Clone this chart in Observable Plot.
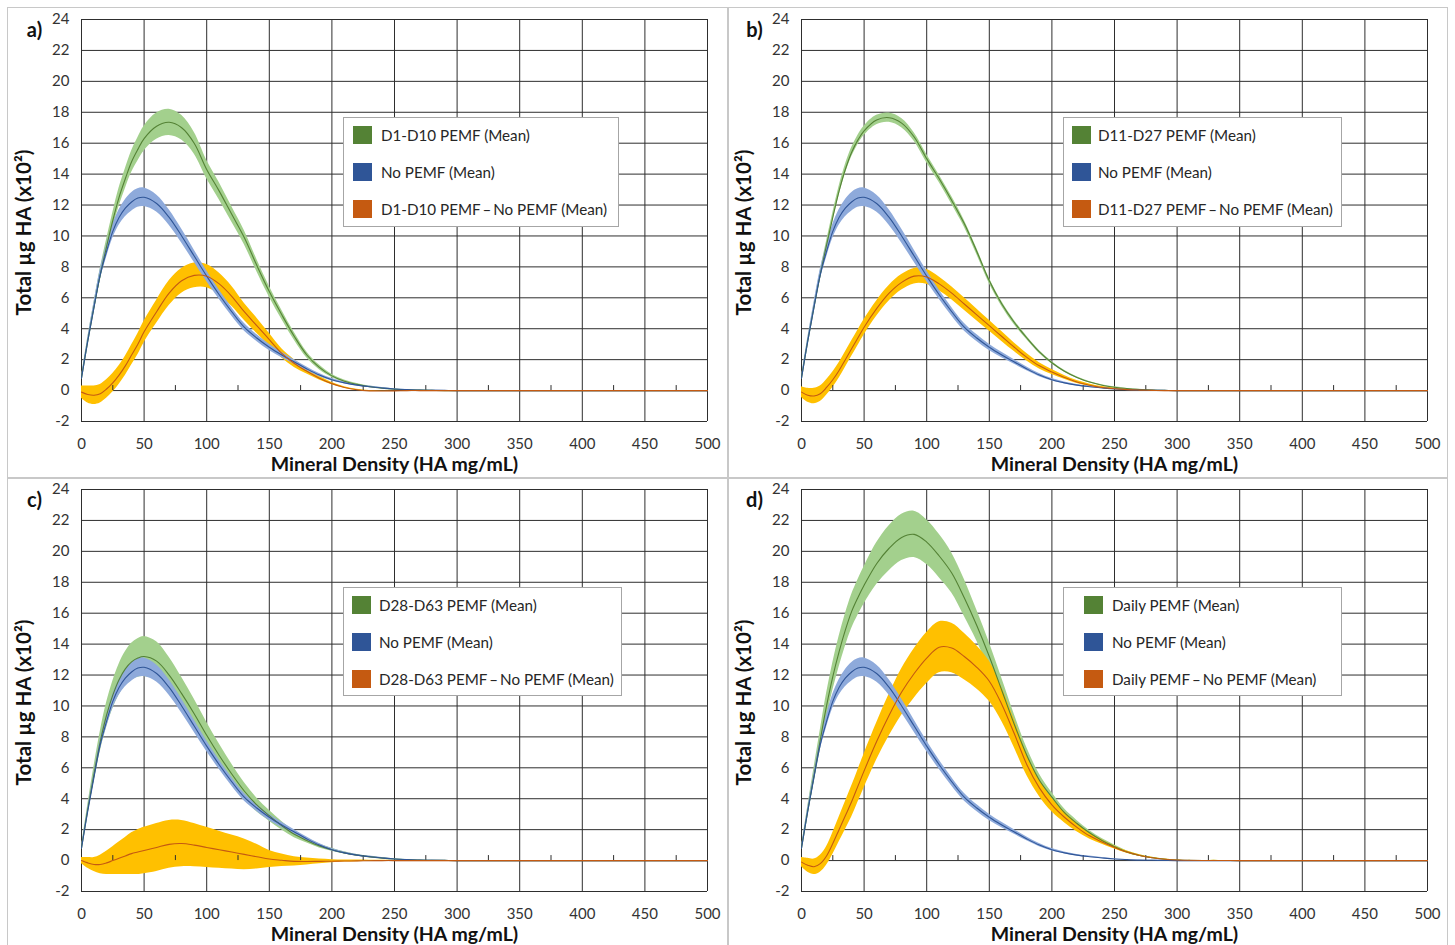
<!DOCTYPE html>
<html>
<head>
<meta charset="utf-8">
<script src="https://cdn.jsdelivr.net/npm/d3@7"></script>
<script src="https://cdn.jsdelivr.net/npm/@observablehq/plot@0.6"></script>
<style>
  html, body { margin: 0; padding: 0; background: #fff; }
  body { width: 1455px; height: 945px; position: relative; overflow: hidden; font-family: Lato, "Open Sans", sans-serif; }
  .frame { position: absolute; border: 1px solid #c8c8c8; box-sizing: border-box; }
  .panel { position: absolute; }
  .legend { position: absolute; background: #fff; border: 1px solid #a6a6a6; box-sizing: border-box; }
  .legend .item { position: absolute; height: 20px; line-height: 20px; font-size: 15.2px; color: #262626; white-space: nowrap; }
  .legend .sw { position: absolute; width: 19px; height: 18px; }
</style>
</head>
<body>
<script>
// ---- data ----
const density = [0,5,10,15,20,25,30,35,40,45,50,60,70,80,90,100,110,120,130,140,150,160,170,180,190,200,210,220,230,240,250,260,270,280,290,300,350,400,450,500];

const noPemf   = [0.8,3.2,5.4,7.5,9.0,10.3,11.2,11.8,12.2,12.45,12.5,12.1,11.2,10.0,8.7,7.4,6.2,5.1,4.1,3.4,2.8,2.3,1.85,1.4,1.0,0.7,0.5,0.35,0.25,0.17,0.1,0.06,0.03,0.02,0.01,0,0,0,0,0];
const noPemfHw = [0.05,0.2,0.3,0.35,0.4,0.45,0.5,0.55,0.6,0.6,0.6,0.55,0.5,0.45,0.4,0.35,0.3,0.28,0.25,0.22,0.2,0.18,0.15,0.12,0.1,0.08,0.06,0.05,0.04,0.03,0.02,0.01,0.01,0.01,0,0,0,0,0,0];

const pemfA   = [0.8,3.2,5.4,7.5,9.3,11.0,12.5,13.7,14.8,15.6,16.3,17.1,17.35,17.0,16.0,14.3,12.9,11.4,9.9,8.1,6.4,4.9,3.5,2.3,1.5,0.95,0.6,0.4,0.25,0.15,0.09,0.05,0.03,0.01,0,0,0,0,0,0];
const pemfAHw = [0.05,0.2,0.3,0.4,0.45,0.5,0.6,0.65,0.7,0.75,0.8,0.85,0.85,0.8,0.7,0.6,0.55,0.5,0.45,0.4,0.35,0.3,0.25,0.2,0.15,0.1,0.08,0.06,0.04,0.03,0.02,0.01,0.01,0,0,0,0,0,0,0];
const diffA   = [-0.1,-0.25,-0.3,-0.2,0.1,0.5,1.0,1.6,2.3,3.0,3.8,5.1,6.3,7.1,7.45,7.4,6.9,6.1,5.1,4.2,3.3,2.4,1.75,1.25,0.8,0.45,0.2,0.05,-0.02,-0.03,-0.02,0,0,0,0,0,0,0,0,0];
const diffAHw = [0.4,0.55,0.6,0.6,0.6,0.6,0.6,0.62,0.65,0.68,0.7,0.75,0.8,0.8,0.8,0.75,0.7,0.65,0.55,0.5,0.4,0.3,0.25,0.18,0.12,0.08,0.05,0.03,0.02,0.01,0,0,0,0,0,0,0,0,0,0];

const pemfB   = [0.8,3.2,5.4,7.5,9.4,11.2,12.9,14.3,15.4,16.2,16.8,17.5,17.65,17.3,16.4,15.0,13.7,12.3,10.8,9.0,7.1,5.6,4.4,3.4,2.5,1.8,1.25,0.85,0.55,0.35,0.22,0.13,0.07,0.03,0.01,0,0,0,0,0];
const pemfBHw = [0.05,0.15,0.2,0.25,0.25,0.28,0.3,0.3,0.3,0.3,0.3,0.3,0.3,0.3,0.28,0.27,0.25,0.25,0.22,0.2,0.18,0.16,0.14,0.12,0.1,0.08,0.06,0.05,0.04,0.03,0.02,0.01,0.01,0,0,0,0,0,0,0];
const diffB   = [-0.1,-0.3,-0.35,-0.2,0.2,0.7,1.3,2.0,2.7,3.4,4.1,5.3,6.3,7.0,7.4,7.35,6.9,6.3,5.6,4.9,4.2,3.5,2.8,2.15,1.6,1.2,0.85,0.55,0.35,0.2,0.12,0.06,0.03,0.01,0,0,0,0,0,0];
const diffBHw = [0.35,0.45,0.5,0.5,0.5,0.5,0.5,0.5,0.5,0.5,0.5,0.5,0.5,0.5,0.5,0.48,0.45,0.42,0.4,0.38,0.35,0.32,0.28,0.24,0.2,0.16,0.12,0.1,0.08,0.06,0.04,0.03,0.02,0.01,0,0,0,0,0,0];

const pemfC   = [0.8,3.3,5.6,7.7,9.4,10.7,11.7,12.4,12.85,13.1,13.2,12.9,12.0,10.8,9.5,8.1,6.8,5.6,4.5,3.6,2.9,2.25,1.7,1.3,0.95,0.7,0.5,0.35,0.24,0.16,0.1,0.06,0.03,0.02,0.01,0,0,0,0,0];
const pemfCHw = [0.05,0.3,0.5,0.65,0.8,0.9,1.0,1.1,1.2,1.25,1.3,1.25,1.15,1.05,0.95,0.85,0.75,0.65,0.55,0.45,0.35,0.28,0.22,0.17,0.13,0.1,0.07,0.05,0.04,0.03,0.02,0.01,0.01,0,0,0,0,0,0,0];
const diffC   = [0,-0.15,-0.25,-0.25,-0.15,0,0.15,0.3,0.45,0.55,0.65,0.85,1.05,1.1,1.0,0.85,0.7,0.55,0.4,0.25,0.1,0.02,-0.05,-0.06,-0.05,-0.04,-0.03,-0.02,-0.01,0,0,0,0,0,0,0,0,0,0,0];
const diffCHw = [0.2,0.35,0.45,0.6,0.75,0.9,1.05,1.2,1.35,1.45,1.5,1.55,1.55,1.5,1.4,1.3,1.2,1.1,1.0,0.8,0.55,0.4,0.3,0.22,0.15,0.1,0.07,0.05,0.03,0.02,0.01,0,0,0,0,0,0,0,0,0];

const pemfD   = [0.8,3.2,5.5,7.8,10.0,11.9,13.5,14.9,16.1,17.0,17.8,19.2,20.2,20.9,21.1,20.6,19.7,18.6,17.0,15.2,13.2,11.0,8.8,6.8,5.2,4.1,3.1,2.4,1.8,1.3,0.9,0.55,0.33,0.18,0.09,0.04,0,0,0,0];
const pemfDHw = [0.05,0.3,0.5,0.65,0.8,0.9,1.0,1.05,1.1,1.15,1.2,1.35,1.45,1.5,1.5,1.45,1.4,1.3,1.2,1.0,0.9,0.8,0.65,0.5,0.4,0.3,0.25,0.2,0.15,0.12,0.1,0.07,0.05,0.03,0.02,0.01,0,0,0,0];
const diffD   = [-0.1,-0.3,-0.4,-0.2,0.3,1.1,2.0,2.9,3.8,4.8,5.8,7.7,9.4,10.9,12.1,13.1,13.8,13.75,13.2,12.5,11.6,10.1,8.2,6.2,4.7,3.6,2.8,2.15,1.6,1.2,0.85,0.55,0.33,0.18,0.09,0.04,0,0,0,0];
const diffDHw = [0.3,0.45,0.5,0.55,0.6,0.7,0.8,0.9,1.0,1.05,1.1,1.2,1.35,1.5,1.6,1.65,1.65,1.6,1.5,1.4,1.3,1.1,0.9,0.7,0.55,0.45,0.35,0.28,0.2,0.15,0.1,0.07,0.05,0.03,0.02,0.01,0,0,0,0];

const panelLabels = ["a)", "b)", "c)", "d)"];
const groupNames = ["D1-D10 PEMF", "D11-D27 PEMF", "D28-D63 PEMF", "Daily PEMF"];
const xTicks = [0,50,100,150,200,250,300,350,400,450,500];
const xMinorTicks = [25,75,125,175,225,275,325,375,425,475];
const yTicks = [-2,0,2,4,6,8,10,12,14,16,18,20,22,24];
const xTitle = "Mineral Density (HA mg/mL)";
const yTitle = "Total µg HA (x10²)";

// ---- styles / layout ----
const C = {
  greenLine: "#548235", greenBand: "#a3d08d",
  blueLine: "#2f5597", blueBand: "#8eaadb",
  orangeLine: "#c55a11", orangeBand: "#ffc000",
  grid: "#2e2e2e", text: "#333333"
};
const series = [
  {pemf: pemfA, pemfHw: pemfAHw, diff: diffA, diffHw: diffAHw},
  {pemf: pemfB, pemfHw: pemfBHw, diff: diffB, diffHw: diffBHw},
  {pemf: pemfC, pemfHw: pemfCHw, diff: diffC, diffHw: diffCHw},
  {pemf: pemfD, pemfHw: pemfDHw, diff: diffD, diffHw: diffDHw}
];
const panelPos = [[7,7],[727,7],[7,477],[727,477]];
const legendPos = [
  {left: 343, top: 117, width: 276, height: 110, sw: 9, tx: 37},
  {left: 1063, top: 117, width: 279, height: 110, sw: 8, tx: 34},
  {left: 343, top: 587, width: 279, height: 109, sw: 8, tx: 35},
  {left: 1063, top: 587, width: 279, height: 109, sw: 20, tx: 48}
];

// outer frame and dividers
function box(l, t, w, h) {
  const d = document.createElement("div");
  d.className = "frame";
  Object.assign(d.style, {left: l + "px", top: t + "px", width: w + "px", height: h + "px"});
  document.body.appendChild(d);
}
box(7, 7, 1441, 960);
box(727, 7, 1, 960);
box(7, 477, 1441, 1);

series.forEach((s, p) => {
  const rows = density.map((x, i) => ({
    x,
    pemf: s.pemf[i], pemfLo: s.pemf[i] - s.pemfHw[i], pemfHi: s.pemf[i] + s.pemfHw[i],
    no: noPemf[i], noLo: noPemf[i] - noPemfHw[i], noHi: noPemf[i] + noPemfHw[i],
    diff: s.diff[i], diffLo: s.diff[i] - s.diffHw[i], diffHi: s.diff[i] + s.diffHw[i]
  }));
  const curve = "catmull-rom";
  const chart = Plot.plot({
    width: 720, height: 470,
    marginLeft: 74, marginRight: 20, marginTop: 12, marginBottom: 56,
    style: {fontFamily: "Lato, 'Open Sans', sans-serif", fontSize: "15px", color: C.text, background: "transparent", overflow: "visible"},
    x: {domain: [0, 500]},
    y: {domain: [-2, 24]},
    marks: [
      Plot.ruleX(xTicks, {stroke: C.grid, strokeWidth: 1}),
      Plot.ruleY(yTicks, {stroke: C.grid, strokeWidth: 1}),
      Plot.areaY(rows, {x: "x", y1: "pemfLo", y2: "pemfHi", fill: C.greenBand, curve}),
      Plot.areaY(rows, {x: "x", y1: "diffLo", y2: "diffHi", fill: C.orangeBand, curve}),
      Plot.areaY(rows, {x: "x", y1: "noLo", y2: "noHi", fill: C.blueBand, curve}),
      Plot.ruleX(xMinorTicks, {y1: 0, y2: 0, insetTop: -5, stroke: C.grid, strokeWidth: 1}),
      Plot.line(rows, {x: "x", y: "pemf", stroke: C.greenLine, strokeWidth: 1.1, curve}),
      Plot.line(rows, {x: "x", y: "no", stroke: C.blueLine, strokeWidth: 1.1, curve}),
      Plot.line(rows, {x: "x", y: "diff", stroke: C.orangeLine, strokeWidth: 1.1, curve}),
      Plot.axisX(xTicks, {tickSize: 0, tickPadding: 17, label: null, fontSize: 15, fill: C.text}),
      Plot.axisY(yTicks, {tickSize: 0, tickPadding: 12, label: null, fontSize: 15, fill: C.text, tickFormat: d => String(d)}),
      Plot.text([xTitle], {frameAnchor: "bottom", dy: 43, lineAnchor: "middle", fontWeight: "bold", fontSize: 19.5, fill: "#111"}),
      Plot.text([yTitle], {frameAnchor: "left", dx: -57, dy: 12, rotate: -90, textAnchor: "middle", lineAnchor: "middle", fontWeight: "bold", fontSize: 20.5, fill: "#111"}),
      Plot.text([panelLabels[p]], {frameAnchor: "top-left", dx: -47, dy: 11, lineAnchor: "middle", textAnchor: "middle", fontWeight: "bold", fontSize: 20, fill: "#111"})
    ]
  });
  const wrap = document.createElement("div");
  wrap.className = "panel";
  wrap.style.left = panelPos[p][0] + "px";
  wrap.style.top = panelPos[p][1] + "px";
  wrap.appendChild(chart);
  document.body.appendChild(wrap);

  // legend
  const L = legendPos[p];
  const lg = document.createElement("div");
  lg.className = "legend";
  Object.assign(lg.style, {left: L.left + "px", top: L.top + "px", width: L.width + "px", height: L.height + "px"});
  const entries = [
    {color: C.greenLine, text: groupNames[p] + " (Mean)"},
    {color: C.blueLine, text: "No PEMF (Mean)"},
    {color: C.orangeLine, text: groupNames[p] + "\u2009\u2013\u2009No PEMF (Mean)"}
  ];
  entries.forEach((e, i) => {
    const sw = document.createElement("div");
    sw.className = "sw";
    Object.assign(sw.style, {left: L.sw + "px", top: (8 + i * 37) + "px", background: e.color});
    lg.appendChild(sw);
    const it = document.createElement("div");
    it.className = "item";
    Object.assign(it.style, {left: L.tx + "px", top: (7 + i * 37) + "px"});
    it.textContent = e.text;
    lg.appendChild(it);
  });
  document.body.appendChild(lg);
});
</script>
</body>
</html>
